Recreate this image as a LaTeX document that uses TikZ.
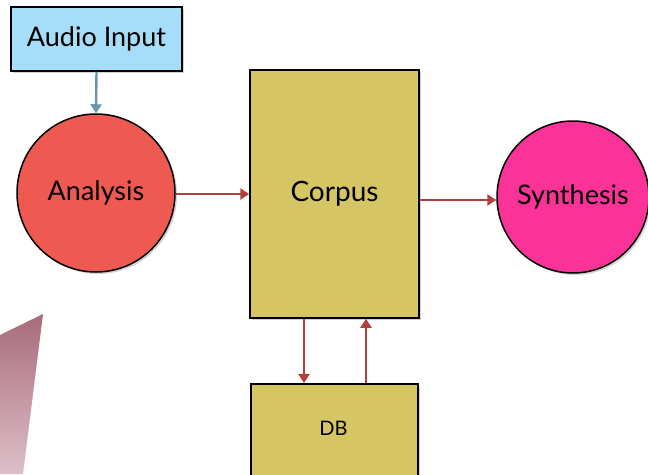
\documentclass[tikz,border=0pt]{standalone}
\usepackage{fontspec}
\setmainfont{Lato}
\usetikzlibrary{arrows.meta,shadows,fadings}
\definecolor{audiob}{HTML}{A6DDF8}
\definecolor{anared}{HTML}{EE5A52}
\definecolor{corpy}{HTML}{D6C563}
\definecolor{synpink}{HTML}{FB3399}
\definecolor{bluearr}{HTML}{6A96AE}
\definecolor{redarr}{HTML}{B0403E}
\definecolor{wedgetop}{HTML}{A86B7B}
\definecolor{wedgebot}{HTML}{DDBFC8}
\tikzset{
  blk/.style={draw=black, line width=1.5pt, inner sep=0pt, drop shadow={opacity=0.35, shadow xshift=2pt, shadow yshift=-2pt}},
  circ/.style={circle, draw=black, line width=1.5pt, inner sep=0pt, drop shadow={opacity=0.35, shadow xshift=2pt, shadow yshift=-2pt}},
  redline/.style={draw=redarr, line width=2.4pt, -{Triangle[width=11pt,length=9pt]}},
  blueline/.style={draw=bluearr, line width=2.4pt, -{Triangle[width=11pt,length=9pt]}},
}
\begin{document}
\begin{tikzpicture}[x=1pt,y=-1pt]
\useasboundingbox (0,0) rectangle (648,474);
\shade[top color=wedgetop, bottom color=wedgebot] (0,335) -- (43,314) -- (23,474) -- (0,474) -- cycle;
\node[blk, fill=audiob, minimum width=171pt, minimum height=64pt, font=\fontsize{27}{30}\selectfont] (audio) at (96.5,39) {Audio Input};
\node[circ, fill=anared, minimum size=158pt, font=\fontsize{27}{30}\selectfont] (analysis) at (96,193) {Analysis};
\node[blk, fill=corpy, minimum width=169pt, minimum height=248pt, font=\fontsize{28}{31}\selectfont] (corpus) at (334.5,194) {Corpus};
\node[circ, fill=synpink, minimum size=152pt, font=\fontsize{27}{30}\selectfont] (synth) at (573,197) {Synthesis};
\node[blk, fill=corpy, minimum width=167pt, minimum height=110pt, anchor=north west] (db) at (250,383) {};
\node[font=\fontsize{20}{22}\selectfont] (dblabel) at (333.5,428) {DB};
\draw[blueline] (audio.south) -- (analysis.north);
\draw[redline] (analysis.east |- 0,194) coordinate (a1) -- (corpus.west |- a1);
\draw[redline] (corpus.east |- 0,200) coordinate (c1) -- (synth.west |- c1);
\draw[redline] (corpus.south -| 304,0) coordinate (c2) -- (db.north -| c2);
\draw[redline] (db.north -| 366,0) coordinate (d2) -- (corpus.south -| d2);
\end{tikzpicture}
\end{document}
